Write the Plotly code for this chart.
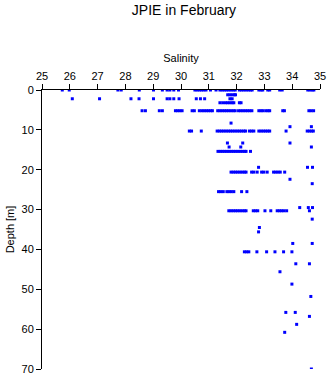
import plotly.graph_objects as go

# Salinity readings grouped by sampling depth (m)
sal_d0 = [25.73, 25.98, 27.73, 27.85, 28.5, 29.01, 29.33, 29.5, 29.6, 29.74, 29.91,
          30.5, 30.58, 30.66, 30.74, 30.82, 30.9, 31.06, 31.26,
          31.4, 31.48, 31.56, 31.64, 31.72, 31.8, 31.88, 31.95,
          32.1, 32.18, 32.26, 32.34, 32.42, 32.5, 32.56, 32.8, 32.88, 32.94,
          33.12, 33.19, 33.55, 33.64, 34.56, 34.64, 34.72, 34.78]
sal_d1 = [31.68, 31.76, 31.84, 31.92, 31.96]
sal_d2 = [26.09, 27.07, 28.2, 28.49, 29.01, 29.5, 29.6, 29.74, 29.93,
          30.55, 30.7, 30.85, 31.76, 31.84]
sal_d3 = [31.4, 31.5, 31.6, 31.68, 31.76, 31.84, 31.9, 32.1, 32.16]
sal_d5 = [28.6, 28.72, 29.22, 29.33, 29.8, 29.88, 29.96, 30.04, 30.4, 30.48,
          30.66, 30.75, 30.83, 30.91, 30.99, 31.07, 31.13,
          31.32, 31.4, 31.48, 31.56, 31.64, 31.72, 31.8, 31.88, 31.95,
          32.07, 32.15, 32.23, 32.31, 32.39, 32.47, 32.55,
          32.8, 32.88, 32.95, 33.05, 33.13, 33.19, 33.66, 33.72, 34.6, 34.68, 34.77]
sal_d8 = [31.8]
sal_d9 = [33.92, 34.69]
sal_d10 = [30.3, 30.38, 30.73, 31.3, 31.38, 31.46, 31.54, 31.62, 31.7, 31.78, 31.86,
           31.94, 32.02, 32.1, 32.18, 32.26, 32.32, 32.46, 32.54, 32.62,
           32.8, 32.88, 32.96, 33.04, 33.12, 33.19, 33.78, 34.54, 34.62, 34.7, 34.76]
sal_d13 = [31.67, 32.22, 33.92]
sal_d14 = [31.73, 32.15, 34.69]
sal_d15 = [31.33, 31.41, 31.49, 31.57, 31.65, 31.73, 31.81, 31.89, 31.97,
           32.05, 32.13, 32.21, 32.29, 32.34, 32.5]
sal_d19 = [32.79, 34.55, 34.73]
sal_d20 = [31.8, 31.88, 31.96, 32.04, 32.12, 32.2, 32.28, 32.34, 32.54, 32.62, 32.74,
           32.9, 32.98, 33.1, 33.33, 33.41, 33.49, 33.57, 33.73]
sal_d22 = [33.92]
sal_d23 = [34.72]
sal_d25 = [31.35, 31.43, 31.52, 31.65, 31.73, 31.81, 31.9, 32.18, 32.37]
sal_d29 = [34.27, 34.58, 34.73]
sal_d30 = [31.72, 31.8, 31.88, 31.96, 32.04, 32.12, 32.2, 32.28, 32.34, 32.6, 32.68,
           32.76, 33.02, 33.23, 33.46, 33.54, 33.62, 33.7, 33.8, 34.62]
sal_d32 = [34.72]
sal_d34 = [32.82]
sal_d35 = [32.79]
sal_d38 = [34.02, 34.72]
sal_d40 = [32.28, 32.36, 32.44, 32.73, 33.08, 33.38, 33.69, 33.99]
sal_d43 = [34.13, 34.62]
sal_d45 = [33.56]
sal_d48 = [33.99]
sal_d51 = [34.67]
sal_d55 = [33.77, 34.11]
sal_d56 = [34.62]
sal_d58 = [34.16]
sal_d60 = [33.73]
sal_d70 = [34.69]

depth_levels = [0, 1.2, 2.2, 3.2, 5.2, 8.3, 9.2, 10.3, 13.3, 14.3, 15.4, 19.4, 20.6,
                22.4, 23.5, 25.5, 29.5, 30.3, 32.4, 34.5, 35.6, 38.5, 40.6, 43.6,
                45.6, 48.7, 51.8, 55.8, 56.8, 58.8, 60.8, 70.0]
sal_groups = [sal_d0, sal_d1, sal_d2, sal_d3, sal_d5, sal_d8, sal_d9, sal_d10, sal_d13,
              sal_d14, sal_d15, sal_d19, sal_d20, sal_d22, sal_d23, sal_d25, sal_d29,
              sal_d30, sal_d32, sal_d34, sal_d35, sal_d38, sal_d40, sal_d43, sal_d45,
              sal_d48, sal_d51, sal_d55, sal_d56, sal_d58, sal_d60, sal_d70]

xs, ys = [], []
for d, grp in zip(depth_levels, sal_groups):
    xs.extend(grp)
    ys.extend([d] * len(grp))

fig = go.Figure(go.Scatter(
    x=xs, y=ys, mode="markers",
    marker=dict(symbol="square", size=3, color="#0000FF", line=dict(width=0)),
    hoverinfo="skip"))

font = dict(family="Liberation Sans, Arial, sans-serif", size=11, color="black")

fig.update_layout(
    width=335, height=384,
    margin=dict(l=42, r=9, t=90, b=12),
    paper_bgcolor="white", plot_bgcolor="white",
    showlegend=False,
    font=font,
    title=dict(text="JPIE in February", x=(42 + 326) / 2 / 335, xanchor="center",
               y=1 - 10 / 384, yanchor="middle", yref="container",
               font=dict(family="Liberation Sans, Arial, sans-serif", size=14, color="black")),
    xaxis=dict(side="top", range=[25, 35], dtick=1, tick0=25,
               showline=True, linecolor="black", linewidth=1,
               ticks="outside", ticklen=5, tickcolor="black",
               showgrid=False, zeroline=False,
               title=dict(text="Salinity", standoff=4, font=font)),
    yaxis=dict(range=[70, 0], dtick=10, tick0=0,
               showline=True, linecolor="black", linewidth=1,
               ticks="outside", ticklen=5, tickcolor="black",
               showgrid=False, zeroline=False,
               title=dict(text="Depth [m]", standoff=4, font=font)),
)

fig.write_html("out.html")
